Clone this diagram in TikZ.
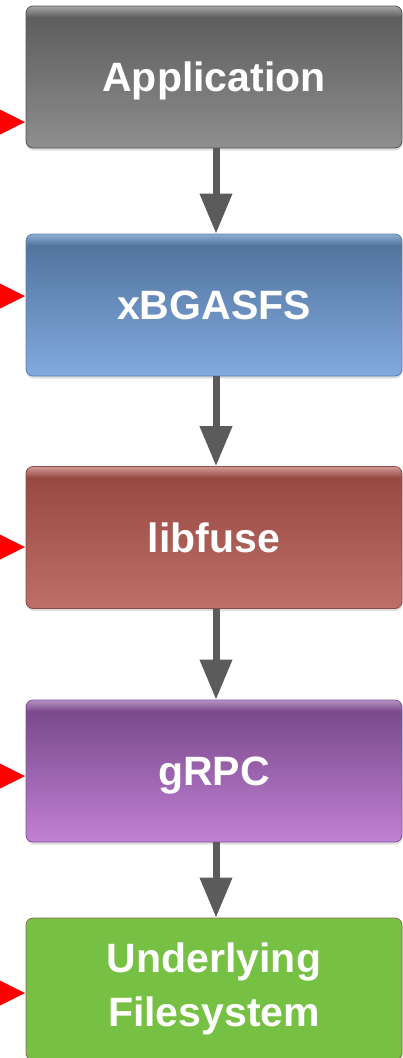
\documentclass[tikz,border=0pt]{standalone}
\usepackage{fontspec}
\setmainfont{Liberation Sans}
\usetikzlibrary{arrows.meta,shadows}

% layer colours: bottom, top, highlight, border
\definecolor{grayB}{HTML}{8E8E8E}\definecolor{grayT}{HTML}{5E5E5E}\definecolor{grayH}{HTML}{A8A8A8}\definecolor{grayD}{HTML}{555555}
\definecolor{blueB}{HTML}{82AADF}\definecolor{blueT}{HTML}{52759E}\definecolor{blueH}{HTML}{8FAED3}\definecolor{blueD}{HTML}{5A7FAE}
\definecolor{redB}{HTML}{BE6F68}\definecolor{redT}{HTML}{984942}\definecolor{redH}{HTML}{CF9A95}\definecolor{redD}{HTML}{8E4A44}
\definecolor{purpB}{HTML}{C181D4}\definecolor{purpT}{HTML}{7A4A8C}\definecolor{purpH}{HTML}{B692C6}\definecolor{purpD}{HTML}{7E5290}
\definecolor{fsGreen}{HTML}{76C143}\definecolor{fsBorder}{HTML}{8B6B52}
\definecolor{flowGray}{HTML}{5B5B5B}
\definecolor{markRed}{HTML}{FF0000}

% glossy vertical shadings (node spans 25bp..75bp of the axis)
\pgfdeclareverticalshading{glossgray}{100bp}{color(0bp)=(grayB); color(25bp)=(grayB); color(71bp)=(grayT); color(75bp)=(grayH); color(100bp)=(grayH)}
\pgfdeclareverticalshading{glossblue}{100bp}{color(0bp)=(blueB); color(25bp)=(blueB); color(71bp)=(blueT); color(75bp)=(blueH); color(100bp)=(blueH)}
\pgfdeclareverticalshading{glossred}{100bp}{color(0bp)=(redB); color(25bp)=(redB); color(71bp)=(redT); color(75bp)=(redH); color(100bp)=(redH)}
\pgfdeclareverticalshading{glosspurple}{100bp}{color(0bp)=(purpB); color(25bp)=(purpB); color(71bp)=(purpT); color(75bp)=(purpH); color(100bp)=(purpH)}

\tikzset{
  layer/.style={rounded corners=7pt, minimum width=376pt, minimum height=142pt,
    inner sep=0pt, line width=0.8pt, text=white, align=center,
    font=\fontsize{41}{54}\selectfont\bfseries,
    drop shadow={opacity=0.25, shadow xshift=0.5pt, shadow yshift=-2.5pt}},
  oneline/.style={text depth=0pt},
  flow/.style={draw=flowGray, line width=7pt, -{Triangle[width=31pt,length=40pt]}},
  marker/.style={fill=markRed}
}

\begin{document}
\begin{tikzpicture}[x=1pt,y=-1pt]
  \useasboundingbox (0,0) rectangle (403,1058);
  \clip (0,0) rectangle (403,1058);

  % stack of layers
  \node[layer, oneline, shading=glossgray,   draw=grayD] (app)   at (214,77)    {Application};
  \node[layer, oneline, shading=glossblue,   draw=blueD] (xbgas) at (214,305)   {xBGASFS};
  \node[layer, oneline, shading=glossred,    draw=redD]  (fuse)  at (214,537.5) {libfuse};
  \node[layer, oneline, shading=glosspurple, draw=purpD] (grpc)  at (214,771)   {gRPC};
  \node[layer, fill=fsGreen, draw=fsBorder]              (fs)    at (214,989)   {Underlying\\Filesystem};

  % downward flow between layers
  \draw[flow] (app.south -| 216,0)   -- (xbgas.north -| 216,0);
  \draw[flow] (xbgas.south -| 216,0) -- (fuse.north -| 216,0);
  \draw[flow] (fuse.south -| 216,0)  -- (grpc.north -| 216,0);
  \draw[flow] (grpc.south -| 216,0)  -- (fs.north -| 216,0);

  % red pointers at the left edge
  \coordinate (m1) at (25,122);
  \coordinate (m2) at (25,296);
  \coordinate (m3) at (25,547);
  \coordinate (m4) at (25,776);
  \coordinate (m5) at (25,993);
  \foreach \m in {m1,m2,m3,m4,m5}
    \fill[marker] (\m) -- ++(-32,-16) -- ++(0,32) -- cycle;
\end{tikzpicture}
\end{document}
